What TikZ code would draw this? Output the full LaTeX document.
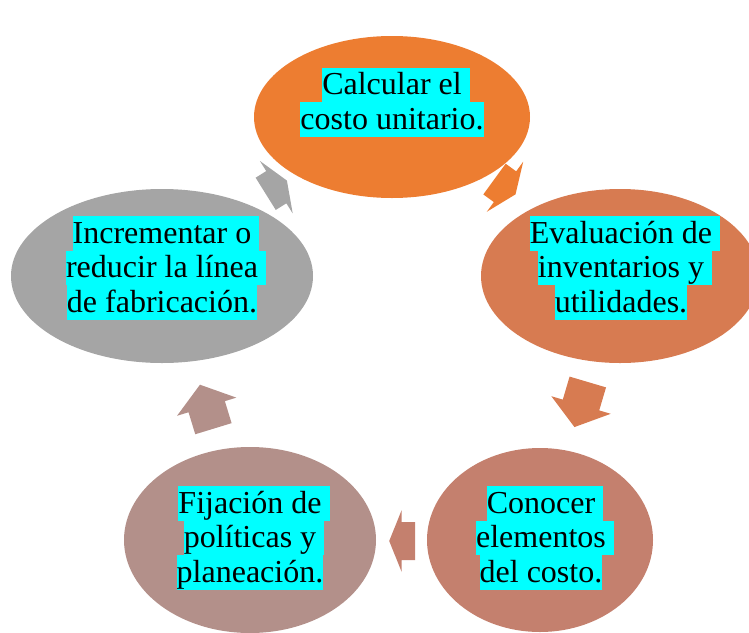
\documentclass[tikz,border=0pt]{standalone}
\usepackage{fontspec}
\setmainfont{Liberation Serif}
\usepackage{xcolor}
\usepackage{tikz}
\usetikzlibrary{shapes.geometric}

\definecolor{tono1}{HTML}{ED7D31}
\definecolor{tono2}{HTML}{D77B51}
\definecolor{tono3}{HTML}{C4806E}
\definecolor{tono4}{HTML}{B3908A}
\definecolor{tono5}{HTML}{A5A5A5}
\definecolor{resalte}{HTML}{00FFFF}

\setlength{\fboxsep}{0pt}
% renglon resaltado; la version "s" lleva el espacio final
\newcommand{\hl}[1]{\colorbox{resalte}{\rule[-7.5pt]{0pt}{34.5pt}#1}}
\newcommand{\hls}[1]{\hl{#1\ }\kern-\fontdimen2\font}
% flecha de bloque: color, x, y, angulo, punta, cuerpo
\newcommand{\flecha}[6]{%
  \fill[#1, shift={(#2,#3)}, rotate=#4]
    (-#6,-19) -- (0,-19) -- (0,-31) -- (#5,0) -- (0,31) -- (0,19) -- (-#6,19) -- cycle;}

\begin{document}
\begin{tikzpicture}[
    x=1pt, y=-1pt,
    every node/.style = {inner sep=0pt},
    burbuja/.style = {ellipse, draw=none},
    texto/.style = {align=center, font=\fontsize{32}{34.5}\selectfont}
  ]
  \useasboundingbox (0,0) rectangle (749,632);

  % elipses
  \node[burbuja, fill=tono1, minimum width=276, minimum height=162] (calc) at (392,117) {};
  \node[burbuja, fill=tono2, minimum width=278, minimum height=174] (eval) at (620,276) {};
  \node[burbuja, fill=tono3, minimum width=226, minimum height=184] (cono) at (540,540) {};
  \node[burbuja, fill=tono4, minimum width=252, minimum height=186] (fija) at (250,540) {};
  \node[burbuja, fill=tono5, minimum width=302, minimum height=174] (incr) at (162,276) {};

  % textos
  \node[texto] (calctxt) at (392,102) {\hls{Calcular el}\\\hl{costo unitario.}};
  \node[texto] (evaltxt) at (621,268) {\hls{Evaluación de}\\\hls{inventarios y}\\\hl{utilidades.}};
  \node[texto] (conotxt) at (541,538) {\hls{Conocer}\\\hls{elementos}\\\hl{del costo.}};
  \node[texto] (fijatxt) at (250,538) {\hls{Fijación de}\\\hls{políticas y}\\\hl{planeación.}};
  \node[texto] (incrtxt) at (162,268) {\hls{Incrementar o}\\\hls{reducir la línea}\\\hl{de fabricación.}};

  % flechas del ciclo
  \flecha{tono1}{505}{186.7}{-36}{13}{13}
  \flecha{tono2}{581}{405}{-106.5}{23}{24}
  \flecha{tono3}{401.7}{541}{180}{12.5}{13.3}
  \flecha{tono4}{206.7}{406.7}{107}{23}{23}
  \flecha{tono5}{276.3}{187.2}{32}{12.5}{12.5}
\end{tikzpicture}
\end{document}
